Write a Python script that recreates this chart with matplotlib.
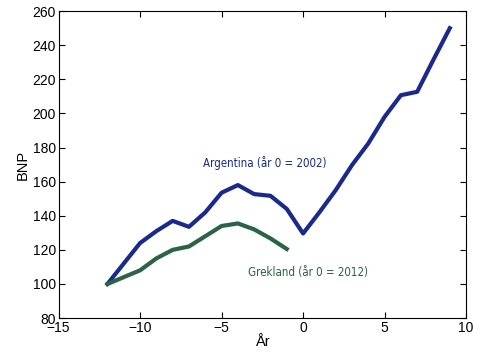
import matplotlib
matplotlib.use("Agg")
import matplotlib.pyplot as plt

# Argentina (year 0 = 2002)
arg_years = list(range(-12, 10))
arg_gdp = [100, 112, 124, 131, 137, 133.5, 142, 153.5, 158, 152.7, 151.7, 144,
           129.6, 142, 155, 169.7, 182.4, 198, 210.7, 212.7, 231.6, 250]

# Greece (year 0 = 2012)
gre_years = list(range(-12, 0))
gre_gdp = [100, 104, 108, 115, 120, 122, 128, 134, 135.5, 132, 126.7, 120.5]

blue = "#1a2a8c"
green = "#2a6345"

plt.rcParams['font.family'] = ['Liberation Sans', 'DejaVu Sans']

fig = plt.figure(figsize=(4.84, 3.59), dpi=100)
ax = fig.add_axes([0.121, 0.114, 0.842, 0.855])

ax.plot(arg_years, arg_gdp, color=blue, linewidth=3)
ax.plot(gre_years, gre_gdp, color=green, linewidth=3)

ax.text(-6.15, 171, "Argentina (år 0 = 2002)", color=blue, fontsize=8.3,
        family='DejaVu Sans', fontstretch='condensed', va='center', ha='left')
ax.text(-3.4, 106.5, "Grekland (år 0 = 2012)", color=green, fontsize=8.3,
        family='DejaVu Sans', fontstretch='condensed', va='center', ha='left')

ax.set_xlim(-15, 10)
ax.set_ylim(80, 260)
ax.set_xticks([-15, -10, -5, 0, 5, 10])
ax.set_yticks(range(80, 261, 20))
ax.tick_params(direction='in', top=True, right=True, labelsize=10, length=4, pad=2)
ax.set_xlabel("År", fontsize=10.5, labelpad=0)
ax.set_ylabel("BNP", fontsize=10.5, labelpad=2)
for s in ax.spines.values():
    s.set_linewidth(0.8)

fig.savefig("out.png", dpi=100)
